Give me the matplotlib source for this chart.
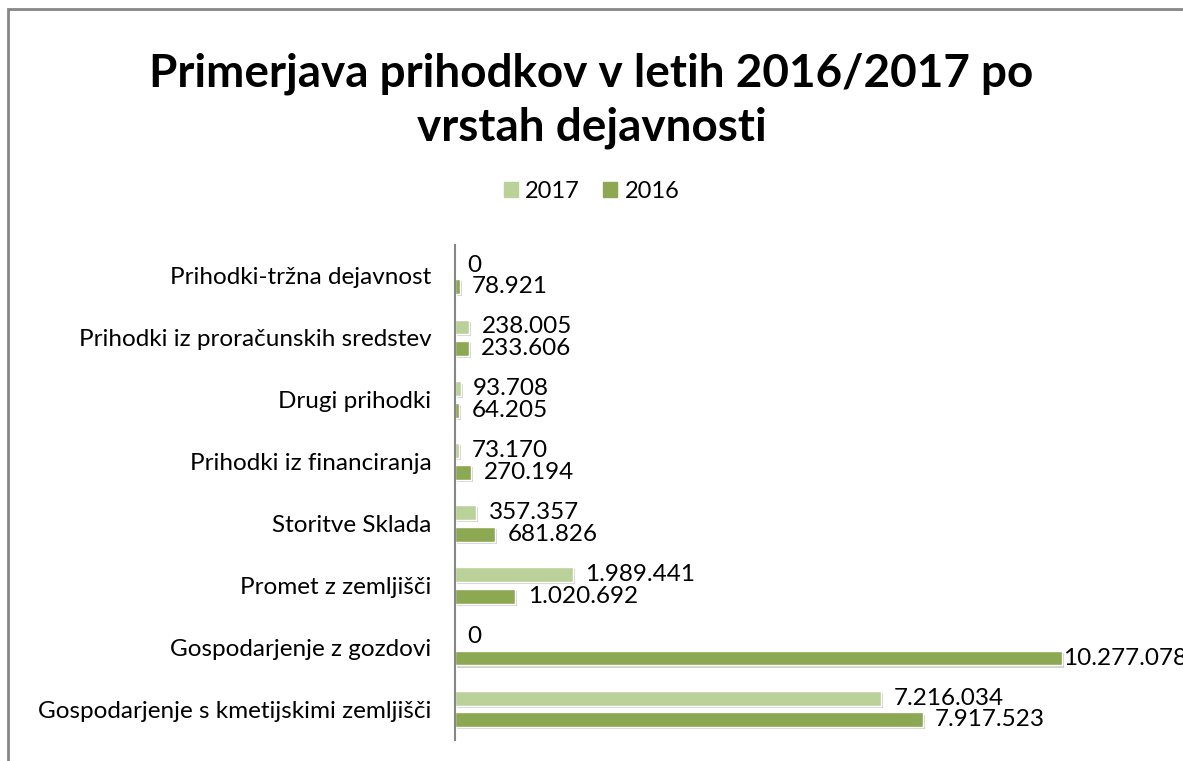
import matplotlib.pyplot as plt
import matplotlib.patheffects as pe
from matplotlib.patches import Rectangle, Patch
import numpy as np

plt.rcParams['font.family'] = ['Lato', 'DejaVu Sans']

# Data (bottom to top, as drawn)
categories = ["Gospodarjenje s kmetijskimi zemljišči", "Gospodarjenje z gozdovi",
              "Promet z zemljišči", "Storitve Sklada", "Prihodki iz financiranja",
              "Drugi prihodki", "Prihodki iz proračunskih sredstev",
              "Prihodki-tržna dejavnost"]
values_2017 = [7216034, 0, 1989441, 357357, 73170, 93708, 238005, 0]
values_2016 = [7917523, 10277078, 1020692, 681826, 270194, 64205, 233606, 78921]

c2017 = "#BBD19A"
c2016 = "#8DA852"

def fmt(v):
    return f"{v:,}".replace(",", ".")

fig = plt.figure(figsize=(11.83, 7.61), dpi=100)
W, H = 1183, 761

# outer chart border (right/bottom are off the picture)
fig.patches.append(Rectangle((8 / W, -0.05), 1.1, 1 - 9 / H + 0.05, transform=fig.transFigure,
                             fill=False, edgecolor="#868686", linewidth=2))

ax = fig.add_axes([455 / W, 21 / H, 1 - 455 / W, (740 - 245) / H])
y = np.arange(len(categories))
shadow = [pe.SimplePatchShadow(offset=(1.5, -1.5), shadow_rgbFace="#808080", alpha=0.35), pe.Normal()]

b17 = ax.barh(y + 0.175, values_2017, height=0.24, color=c2017, edgecolor="white",
              linewidth=1, path_effects=shadow)
b16 = ax.barh(y - 0.175, values_2016, height=0.24, color=c2016, edgecolor="white",
              linewidth=1, path_effects=shadow)

top = max(values_2016)
for bars, vals in ((b17, values_2017), (b16, values_2016)):
    for bar, v in zip(bars, vals):
        off = 1 if v == top else 9
        ax.annotate(fmt(v), (v, bar.get_y() + bar.get_height() / 2), xytext=(off, 0),
                    textcoords="offset points", va="center", ha="left", fontsize=17.5,
                    annotation_clip=False)

ax.set_xlim(0, top * 728 / 607)
ax.set_ylim(-0.5, len(categories) - 0.5)
ax.set_yticks(y)
ax.set_yticklabels(categories, fontsize=17.5)
ax.tick_params(axis="y", length=0, pad=17)
ax.set_xticks([])
for s in ("top", "right", "bottom"):
    ax.spines[s].set_visible(False)
ax.spines["left"].set_color("#868686")
ax.spines["left"].set_linewidth(1.5)

fig.text(0.5, 0.868, "Primerjava prihodkov v letih 2016/2017 po\nvrstah dejavnosti",
         ha="center", va="center", fontsize=33, fontweight="bold", linespacing=1.35)

handles = [Patch(color=c2017), Patch(color=c2016)]
fig.legend(handles=handles, labels=["2017", "2016"], loc="center", bbox_to_anchor=(0.5, 1 - 191 / H),
           ncol=2, frameon=False, fontsize=17, handlelength=0.6, handleheight=0.6,
           handletextpad=0.3, columnspacing=1.0)

fig.savefig("out.png", dpi=100)
